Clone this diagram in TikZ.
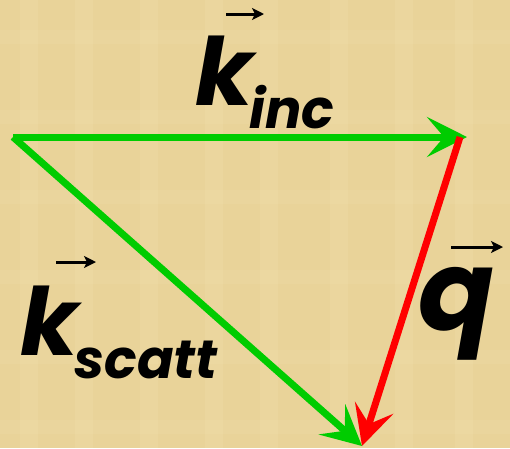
\documentclass[tikz,border=0pt]{standalone}
\usepackage{fontspec}
\setmainfont{Poppins}
\usetikzlibrary{arrows.meta}
\definecolor{parch}{RGB}{233,211,153}
\definecolor{parchlight}{RGB}{240,222,170}
\definecolor{vgreen}{RGB}{0,204,0}
\definecolor{vred}{RGB}{255,0,0}
\tikzset{
  vec/.style={line width=7pt, -{Stealth[length=40pt,width=40pt,inset=17pt]}},
  lbl/.style={inner sep=0pt, anchor=base west, font=\bfseries\itshape},
  over/.style={line width=3pt, -{Stealth[length=12pt,width=12pt,inset=3pt]}}
}
\begin{document}
\begin{tikzpicture}[x=1pt,y=-1pt]
\fill[parch] (0,0) rectangle (510,448);
\useasboundingbox (0,0) rectangle (510,448);
\foreach \xx in {20,75,140,205,260,330,395,455}{
  \fill[parchlight, opacity=0.35] (\xx,0) rectangle ++(18,448);
}
\foreach \yy in {30,110,190,270,350,420}{
  \fill[parchlight, opacity=0.25] (0,\yy) rectangle ++(510,14);
}
% vertices
\coordinate (O) at (13,137);
\coordinate (A) at (467,137);
\coordinate (Astart) at (460,137);
\coordinate (B) at (362,446);
% vectors
\draw[vec, vgreen] (O) -- (A);
\draw[vec, vgreen] (O) -- (B);
\draw[vec, vred] (Astart) -- (B);
% labels
\node[lbl, font=\fontsize{94}{94}\selectfont\bfseries\itshape] (kinc) at (195,105) {k};
\node[lbl, font=\fontsize{54}{54}\selectfont\bfseries\itshape] (inc) at (249,128) {inc};
\coordinate (a1s) at (226,14);
\coordinate (a1e) at (264,14);
\draw[over] (a1s) -- (a1e);

\node[lbl, font=\fontsize{94}{94}\selectfont\bfseries\itshape] (ksc) at (20,355) {k};
\node[lbl, font=\fontsize{54}{54}\selectfont\bfseries\itshape] (scatt) at (74,378) {scatt};
\coordinate (a2s) at (56,262);
\coordinate (a2e) at (96,262);
\draw[over] (a2s) -- (a2e);

\node[lbl, font=\fontsize{112}{112}\selectfont\bfseries\itshape] (q) at (418,330) {q};
\coordinate (a3s) at (451,247);
\coordinate (a3e) at (503,247);
\draw[over] (a3s) -- (a3e);
\end{tikzpicture}
\end{document}
